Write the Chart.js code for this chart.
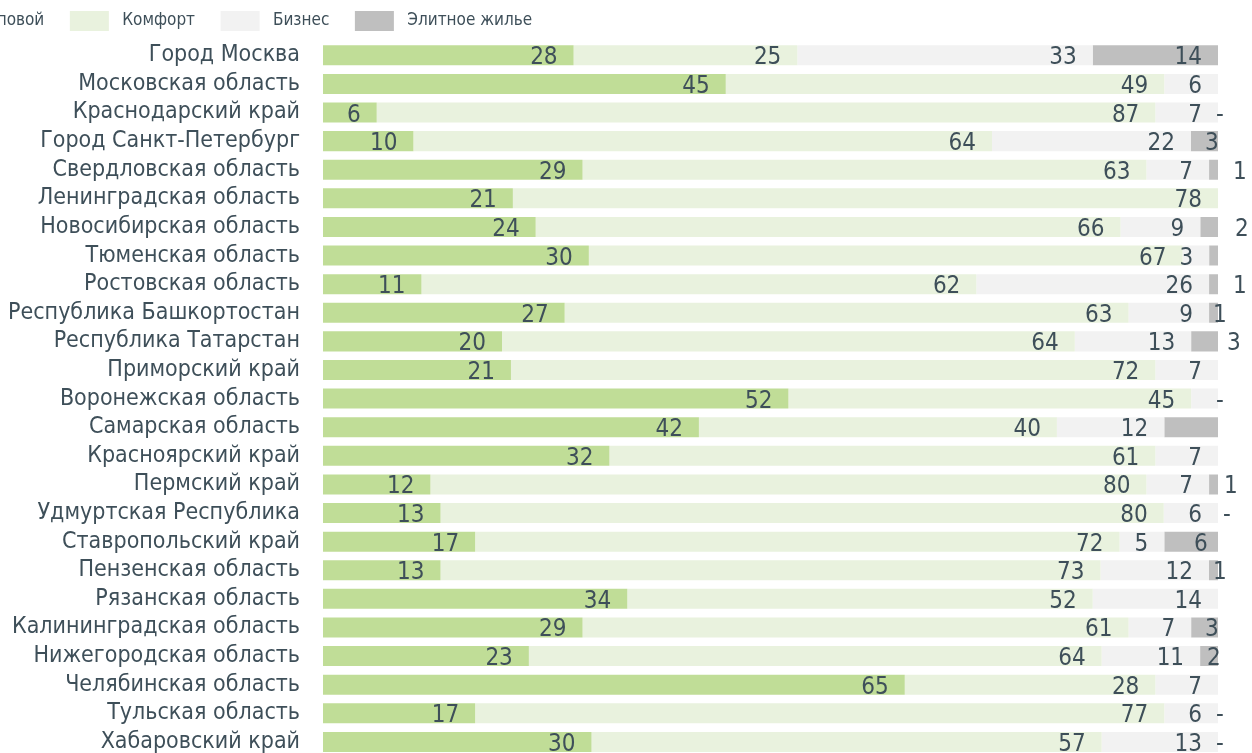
<!DOCTYPE html>
<html lang="ru">
<head>
<meta charset="utf-8">
<title>Структура предложения по классам жилья</title>
<script src="https://cdn.jsdelivr.net/npm/chart.js@4.4.1/dist/chart.umd.min.js"></script>
<style>
  html, body { margin: 0; padding: 0; overflow: hidden; background: #fff; }
  #wrap { position: absolute; left: -86px; top: 0; width: 1338px; height: 793px; }
</style>
</head>
<body>
<div id="wrap"><canvas id="classChart"></canvas></div>
<script>
// Regions (top to bottom)
const regions = [
  "Город Москва", "Московская область", "Краснодарский край", "Город Санкт-Петербург",
  "Свердловская область", "Ленинградская область", "Новосибирская область", "Тюменская область",
  "Ростовская область", "Республика Башкортостан", "Республика Татарстан", "Приморский край",
  "Воронежская область", "Самарская область", "Красноярский край", "Пермский край",
  "Удмуртская Республика", "Ставропольский край", "Пензенская область", "Рязанская область",
  "Калининградская область", "Нижегородская область", "Челябинская область", "Тульская область",
  "Хабаровский край"
];

// Shares by class, % (null = no segment, 0 = shown as "-")
const typovoy = [28, 45, 6, 10, 29, 21, 24, 30, 11, 27, 20, 21, 52, 42, 32, 12, 13, 17, 13, 34, 29, 23, 65, 17, 30];
const komfort = [25, 49, 87, 64, 63, 78, 66, 67, 62, 63, 64, 72, 45, 40, 61, 80, 80, 72, 73, 52, 61, 64, 28, 77, 57];
const biznes  = [33, 6, 7, 22, 7, null, 9, 3, 26, 9, 13, 7, 3, 12, 7, 7, 6, 5, 12, 14, 7, 11, 7, 6, 13];
const elite   = [14, null, 0, 3, 1, null, 2, 1, 1, 1, 3, null, 0, 6, null, 1, 0, 6, 1, null, 3, 2, null, 0, 0];

const seriesNames = ["Типовой", "Комфорт", "Бизнес", "Элитное жилье"];
const seriesColors = ["#c0dd97", "#e9f2de", "#f2f2f2", "#bfbfbf"];

// segments whose value label is not shown: [row, series]
const hiddenLabels = [[7, 3], [12, 2], [13, 3]];

// horizontal shift of the elite label from the bar end, px (null = inside the bar)
const eliteLabelShift = [null, null, -2, -13, 15, null, 17, null, 15, -5, 9, null, -2, null, null, 6, 5, -24, -5, null, -13, -11, null, -2, -2];

const textColor = "#3e4f59";
const fontFamily = '"DejaVu Sans Condensed", "DejaVu Sans", sans-serif';

const allSeries = [typovoy, komfort, biznes, elite];
const rowTotals = regions.map((_, i) => allSeries.reduce((s, arr) => s + (arr[i] || 0), 0));

const datasets = allSeries.map((arr, k) => ({
  label: seriesNames[k],
  data: arr.map((v, i) => (v || 0) / rowTotals[i] * 100),
  raw: arr,
  backgroundColor: seriesColors[k],
  borderWidth: 0,
  barPercentage: 0.7,
  categoryPercentage: 1.0,
}));

// Value labels at the end of each segment
const valueLabels = {
  id: "valueLabels",
  afterDatasetsDraw(chart) {
    const { ctx, chartArea } = chart;
    ctx.save();
    ctx.font = "24px " + fontFamily;
    ctx.fillStyle = textColor;
    ctx.textBaseline = "alphabetic";
    chart.data.datasets.forEach((ds, k) => {
      const meta = chart.getDatasetMeta(k);
      meta.data.forEach((bar, i) => {
        const v = ds.raw[i];
        if (v === null) return;
        if (hiddenLabels.some(h => h[0] === i && h[1] === k)) return;
        const text = v === 0 ? "-" : String(v);
        const y = bar.y + 9;
        if (k === 3 && eliteLabelShift[i] !== null) {
          ctx.textAlign = "left";
          ctx.fillText(text, chartArea.right + eliteLabelShift[i], y);
        } else {
          ctx.textAlign = "right";
          ctx.fillText(text, bar.x - 16, y);
        }
      });
    });
    ctx.restore();
  }
};

new Chart(document.getElementById("classChart"), {
  type: "bar",
  data: { labels: regions, datasets },
  plugins: [valueLabels],
  options: {
    indexAxis: "y",
    responsive: true,
    maintainAspectRatio: false,
    animation: false,
    layout: { padding: { top: 0, right: 34, bottom: 0, left: 0 } },
    plugins: {
      tooltip: { enabled: false },
      legend: {
        position: "top",
        align: "start",
        labels: {
          boxWidth: 39,
          boxHeight: 20,
          padding: 11,
          color: textColor,
          font: { family: fontFamily, size: 17 },
          generateLabels(chart) {
            const items = Chart.defaults.plugins.legend.labels.generateLabels(chart);
            items.forEach(it => { it.text = " " + it.text + "   "; it.lineWidth = 0; });
            return items;
          }
        }
      }
    },
    scales: {
      x: {
        stacked: true,
        min: 0,
        max: 100,
        display: false,
      },
      y: {
        stacked: true,
        grid: { display: false, drawTicks: false },
        border: { display: false },
        ticks: {
          color: textColor,
          padding: 23,
          autoSkip: false,
          font: { family: fontFamily, size: 23 },
        },
        afterFit(scale) { scale.width = 409; }
      }
    }
  }
});
</script>
</body>
</html>
